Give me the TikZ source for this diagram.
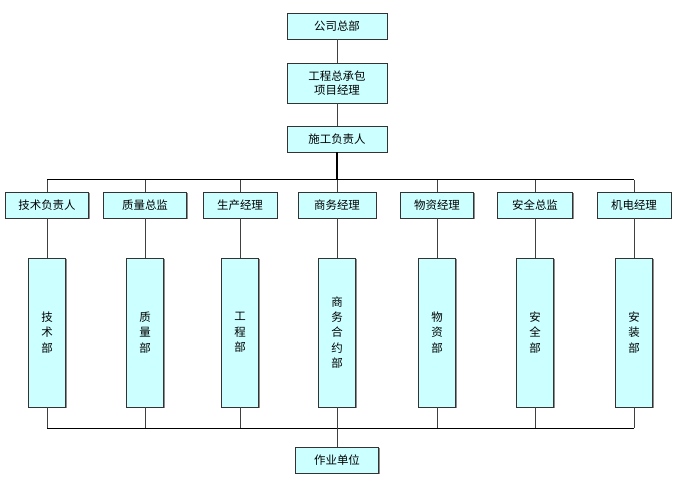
\documentclass[tikz,border=0pt]{standalone}
\usepackage{fontspec}
\usetikzlibrary{shadows}
\setmainfont{Noto Sans CJK SC}
\definecolor{boxfill}{HTML}{CCFFFF}
\begin{document}
\begin{tikzpicture}[x=1bp,y=-1bp,
  box/.style={draw=black!80,line width=0.8bp,fill=boxfill,inner sep=0pt,
    font=\fontsize{11.5}{14}\selectfont,align=center,
    drop shadow={shadow xshift=1.2bp,shadow yshift=-1.2bp,fill=black!45,opacity=1}},
  dept/.style={box,font=\fontsize{11.5}{15.5}\selectfont},
  conn/.style={draw=black!75,line width=0.8bp},
  bus/.style={draw=black,line width=1bp}]
\useasboundingbox (0,0) rectangle (681,485);
\fill[white] (0,0) rectangle (681,485);
% top chain
\node[box,minimum width=100bp,minimum height=26bp] (hq) at (337,26) {公司总部};
\node[box,minimum width=100bp,minimum height=40bp] (pm) at (337,83) {工程总承包\\项目经理};
\node[box,minimum width=100bp,minimum height=26bp] (sg) at (337,139) {施工负责人};
% managers
\foreach \n/\x/\w/\t in {m1/47/83/技术负责人, m2/145/83/质量总监, m3/240/74/生产经理, m4/337/78/商务经理, m5/437/73/物资经理, m6/535/75/安全总监, m7/634/74/机电经理}
  \node[box,minimum width=\w bp,minimum height=26bp] (\n) at (\x,205) {\t};
% departments
\foreach \n/\x/\t in {d1/47/技\\术\\部, d2/145/质\\量\\部, d3/240/工\\程\\部, d4/337/商\\务\\合\\约\\部, d5/437/物\\资\\部, d6/535/安\\全\\部, d7/634/安\\装\\部}
  \node[dept,minimum width=37bp,minimum height=149bp] (\n) at (\x,332.5) {\t};
\node[box,minimum width=83bp,minimum height=26bp] (wk) at (337,460) {作业单位};
% coordinates
\coordinate (tb) at (337,180);
\coordinate (bb) at (337,428);
\coordinate (tbl) at (47,180);
\coordinate (tbr) at (634,180);
\coordinate (bbl) at (47,428);
\coordinate (bbr) at (634,428);
% connectors
\draw[conn] (hq) -- (pm);
\draw[conn] (pm) -- (sg);
\draw[bus,line width=1.8bp] (sg) -- (tb);
\draw[bus] (tbl) -- (tbr);
\draw[bus] (bbl) -- (bbr);
\foreach \i in {1,...,7} {
  \draw[conn] (m\i.north) -- (m\i.north |- tb);
  \draw[conn] (m\i) -- (d\i);
  \draw[conn] (d\i.south) -- (d\i.south |- bb);
}
\draw[conn] (bb) -- (wk);
\end{tikzpicture}
\end{document}
